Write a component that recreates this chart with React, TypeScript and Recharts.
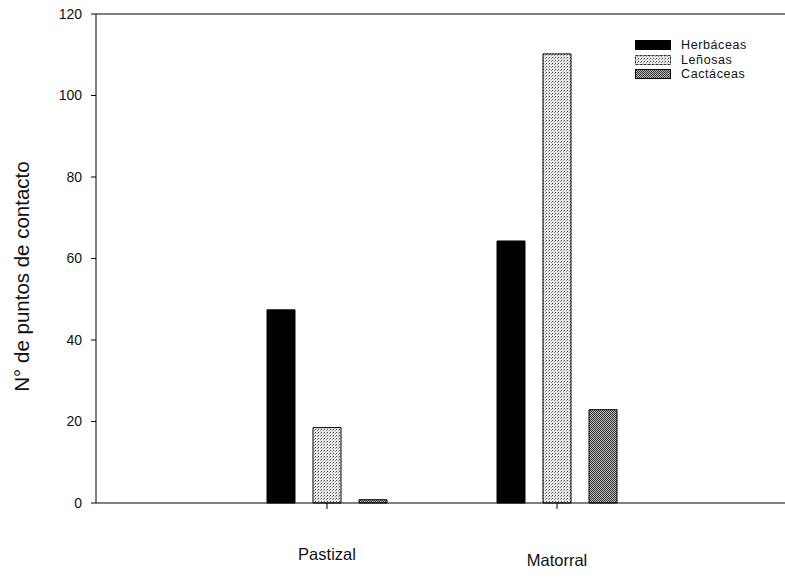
import React from "react";
import { BarChart, Bar, XAxis, YAxis, ReferenceLine } from "recharts";

const sites = ["Pastizal", "Matorral"];
const herbaceas = [47.4, 64.3];
const lenosas = [18.5, 110.2];
const cactaceas = [0.8, 22.9];
const yTicks = [0, 20, 40, 60, 80, 100, 120];

const data = sites.map((site, i) => ({
  site,
  herbaceas: herbaceas[i],
  lenosas: lenosas[i],
  cactaceas: cactaceas[i],
}));

const series = [
  { key: "herbaceas", name: "Herbáceas", fill: "#000" },
  { key: "lenosas", name: "Leñosas", fill: "url(#patLen)" },
  { key: "cactaceas", name: "Cactáceas", fill: "url(#patCac)" },
];

const FONT = "'Liberation Sans', Arial, sans-serif";

const Patterns = () => (
  <svg width={0} height={0} style={{ position: "absolute" }}>
    <defs>
      <pattern id="patLen" width={3} height={3} patternUnits="userSpaceOnUse">
        <rect width={3} height={3} fill="#e6e6e6" />
        <rect x={0} y={0} width={1} height={1} fill="#555" />
        <rect x={2} y={1} width={1} height={1} fill="#999" />
      </pattern>
      <pattern id="patCac" width={2} height={2} patternUnits="userSpaceOnUse">
        <rect width={2} height={2} fill="#bbb" />
        <rect x={0} y={0} width={1} height={1} fill="#333" />
        <rect x={1} y={1} width={1} height={1} fill="#333" />
      </pattern>
    </defs>
  </svg>
);

const XTick = (props: any) => {
  const { x, payload, index } = props;
  return (
    <text
      x={x}
      y={560 + (index === 1 ? 6 : 0)}
      textAnchor="middle"
      fontFamily={FONT}
      fontSize={16.5}
      fill="#111"
    >
      {payload.value}
    </text>
  );
};

const YLabel = (props: any) => {
  const { viewBox } = props;
  const cy = viewBox.y + viewBox.height / 2 + 18;
  return (
    <text
      x={29}
      y={cy}
      transform={`rotate(-90, 29, ${cy})`}
      textAnchor="middle"
      fontFamily={FONT}
      fontSize={20.5}
      fill="#111"
    >
      N° de puntos de contacto
    </text>
  );
};

const LegendBox = () => (
  <div
    style={{
      position: "absolute",
      left: 635,
      top: 38,
      fontFamily: FONT,
      fontSize: 12.5,
      color: "#111",
    }}
  >
    {series.map((s) => (
      <div
        key={s.key}
        style={{ display: "flex", alignItems: "center", height: 14.5 }}
      >
        <svg width={36} height={10} style={{ marginRight: 10 }}>
          <rect
            x={0.5}
            y={0.5}
            width={35}
            height={9}
            fill={s.fill}
            stroke={s.key === "lenosas" ? "#333" : "#000"}
            strokeDasharray={s.key === "lenosas" ? "3 1" : undefined}
          />
        </svg>
        <span style={{ letterSpacing: 0.6 }}>{s.name}</span>
      </div>
    ))}
  </div>
);

export default function App() {
  return (
    <div
      style={{
        position: "absolute",
        left: 0,
        top: 0,
        width: 785,
        height: 583,
        background: "#fff",
      }}
    >
      <Patterns />
      <BarChart
        width={785}
        height={583}
        data={data}
        margin={{ top: 14, right: 0, bottom: 0, left: 0 }}
        barGap={18}
        barSize={28}
      >
        <XAxis
          dataKey="site"
          height={80}
          padding={{ left: 116, right: 113 }}
          stroke="#000"
          tickSize={6}
          tick={<XTick />}
          tickLine={{ stroke: "#000" }}
        />
        <YAxis
          width={96}
          domain={[0, 120]}
          ticks={yTicks}
          stroke="#000"
          tickSize={5}
          tickMargin={9}
          tick={{ fontFamily: FONT, fontSize: 14, fill: "#111" }}
          label={<YLabel />}
        />
        <ReferenceLine y={120} stroke="#000" ifOverflow="extendDomain" />
        {series.map((s) => (
          <Bar
            key={s.key}
            dataKey={s.key}
            name={s.name}
            fill={s.fill}
            stroke="#000"
            strokeWidth={1}
            isAnimationActive={false}
          />
        ))}
      </BarChart>
      <LegendBox />
    </div>
  );
}
